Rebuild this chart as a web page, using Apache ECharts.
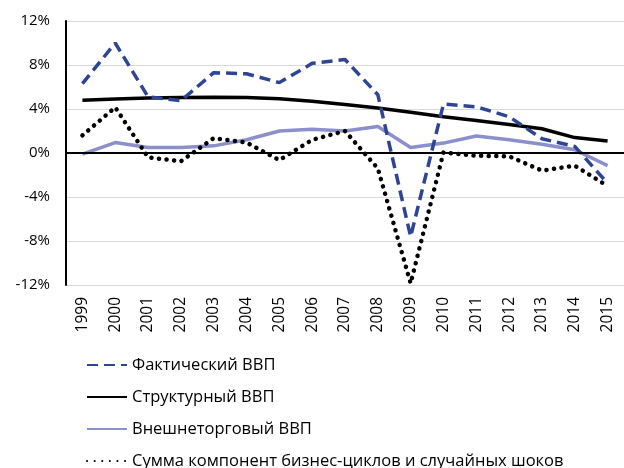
<!DOCTYPE html>
<html>
<head>
<meta charset="utf-8">
<script src="https://cdn.jsdelivr.net/npm/echarts@6/dist/echarts.min.js"></script>
<style>
  html, body { margin: 0; padding: 0; background: #fff; }
  #main { width: 624px; height: 468px; }
</style>
</head>
<body>
<div id="main"></div>
<script>
  var years = ['1999', '2000', '2001', '2002', '2003', '2004', '2005', '2006', '2007',
    '2008', '2009', '2010', '2011', '2012', '2013', '2014', '2015'];
  // темпы роста, %
  var actualGdp = [6.3, 10.0, 5.1, 4.75, 7.3, 7.2, 6.4, 8.15, 8.5, 5.3, -7.6, 4.45, 4.2, 3.3, 1.3, 0.6, -2.75];
  var structuralGdp = [4.8, 4.9, 5.0, 5.05, 5.07, 5.05, 4.94, 4.7, 4.4, 4.1, 3.7, 3.3, 2.95, 2.6, 2.2, 1.4, 1.1];
  var tradeGdp = [-0.1, 0.95, 0.5, 0.5, 0.65, 1.2, 2.0, 2.15, 2.0, 2.4, 0.5, 0.9, 1.55, 1.2, 0.8, 0.3, -1.15];
  var cycleSum = [1.6, 4.15, -0.4, -0.75, 1.35, 0.95, -0.65, 1.2, 2.0, -1.4, -11.85, 0.05, -0.25, -0.3, -1.6, -1.15, -3.0];
  var yTicks = [-12, -8, -4, 0, 4, 8, 12];

  var font = 'Open Sans';
  var myChart = echarts.init(document.getElementById('main'));

  var option = {
    animation: false,
    textStyle: { fontFamily: font },
    grid: { left: 66, top: 21, width: 560, height: 264 },
    legend: {
      orient: 'vertical',
      left: 86,
      top: 355,
      height: 200,
      padding: 0,
      itemWidth: 40,
      itemHeight: 14,
      itemGap: 12,
      itemStyle: { opacity: 0 },
      textStyle: { fontFamily: font, fontSize: 16.5, lineHeight: 20, color: '#000' },
      data: ['Фактический ВВП', 'Структурный ВВП', 'Внешнеторговый ВВП',
        'Сумма компонент бизнес-циклов и случайных шоков']
    },
    xAxis: {
      type: 'category',
      data: years,
      axisLine: { show: false },
      axisTick: { show: false },
      axisLabel: { rotate: 90, fontSize: 15.5, color: '#000', margin: 12, fontFamily: font }
    },
    yAxis: {
      type: 'value',
      min: yTicks[0],
      max: yTicks[yTicks.length - 1],
      interval: 4,
      axisLine: { show: true, lineStyle: { color: '#000', width: 2 } },
      axisTick: { show: false },
      axisLabel: { formatter: '{value}%', fontSize: 15, color: '#000', margin: 16, fontFamily: font },
      splitLine: { lineStyle: { color: '#d9d9d9', width: 1 } }
    },
    series: [
      {
        name: 'Фактический ВВП',
        type: 'line',
        data: actualGdp,
        symbol: 'none',
        z: 4,
        lineStyle: { color: '#2E4596', width: 3.5, type: [11, 6] },
        itemStyle: { color: '#2E4596' },
        markLine: {
          silent: true,
          symbol: 'none',
          label: { show: false },
          lineStyle: { color: '#000', width: 2, type: 'solid' },
          data: [{ yAxis: 0 }]
        }
      },
      {
        name: 'Структурный ВВП',
        type: 'line',
        data: structuralGdp,
        symbol: 'none',
        z: 3,
        lineStyle: { color: '#000', width: 3.5 },
        itemStyle: { color: '#000' }
      },
      {
        name: 'Внешнеторговый ВВП',
        type: 'line',
        data: tradeGdp,
        symbol: 'none',
        z: 2,
        lineStyle: { color: '#8B8FCB', width: 3.5 },
        itemStyle: { color: '#8B8FCB' }
      },
      {
        name: 'Сумма компонент бизнес-циклов и случайных шоков',
        type: 'line',
        data: cycleSum,
        symbol: 'none',
        z: 5,
        lineStyle: { color: '#000', width: 4.5, type: [0.1, 7.5], cap: 'round' },
        itemStyle: { color: '#000' }
      }
    ]
  };

  myChart.setOption(option);
</script>
</body>
</html>
